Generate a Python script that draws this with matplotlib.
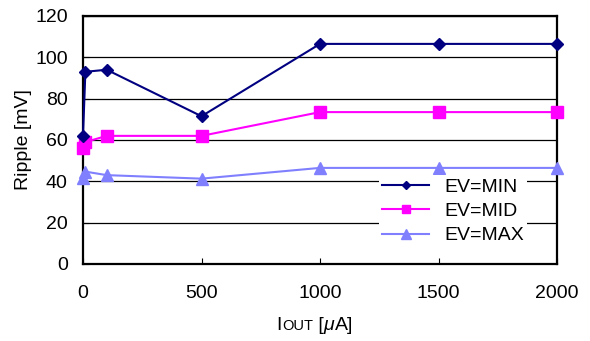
import matplotlib
matplotlib.use('Agg')
import matplotlib.pyplot as plt
from matplotlib.offsetbox import TextArea, HPacker, AnnotationBbox

plt.rcParams['font.family'] = ['Liberation Sans', 'DejaVu Sans']

# data
iout = [0, 10, 100, 500, 1000, 1500, 2000]
ev_min = [62, 93, 94, 71.5, 106.5, 106.5, 106.5]
ev_mid = [56, 59, 62, 62, 73.5, 73.5, 73.5]
ev_max = [41.5, 44.7, 43, 41.3, 46.5, 46.5, 46.5]
x_ticks = [0, 500, 1000, 1500, 2000]
y_ticks = [0, 20, 40, 60, 80, 100, 120]

FS = 14

fig = plt.figure(figsize=(5.9, 3.41), dpi=100)
ax = fig.add_axes([83 / 590, 1 - 264 / 341, (557 - 83) / 590, (264 - 16) / 341])

ax.plot(iout, ev_min, color='#000080', marker='D', markersize=6, lw=1.5,
        label='EV=MIN', clip_on=False, zorder=5)
ax.plot(iout, ev_mid, color='#FF00FF', marker='s', markersize=8.5, lw=1.5,
        label='EV=MID', clip_on=False, zorder=4)
ax.plot(iout, ev_max, color='#8080FF', marker='^', markersize=9, lw=1.5,
        label='EV=MAX', clip_on=False, zorder=3)

ax.set_xlim(0, 2000)
ax.set_ylim(0, 120)
ax.set_xticks(x_ticks)
ax.set_yticks(y_ticks)
ax.tick_params(direction='in', length=4, labelsize=FS, color='black')
ax.tick_params(axis='x', pad=15)
ax.tick_params(axis='y', pad=11)
ax.yaxis.grid(True, color='black', lw=0.9)
ax.set_axisbelow(True)
for s in ax.spines.values():
    s.set_linewidth(1.6)

ax.set_ylabel('Ripple [mV]', fontsize=FS, labelpad=2)

# x label with small-caps style "OUT" and italic mu
parts = [
    TextArea('I', textprops=dict(fontsize=FS)),
    TextArea('OUT', textprops=dict(fontsize=FS * 0.75)),
    TextArea(' [', textprops=dict(fontsize=FS)),
    TextArea('\u03bc', textprops=dict(fontsize=FS, style='italic')),
    TextArea('A]', textprops=dict(fontsize=FS)),
]
box = HPacker(children=parts, align='baseline', pad=0, sep=0)
ab = AnnotationBbox(box, (0.489, -0.25), xycoords='axes fraction', frameon=False,
                    box_alignment=(0.5, 0.5))
ax.add_artist(ab)

leg = ax.legend(loc='lower right', bbox_to_anchor=((537 - 83) / 474, 7 / 248),
                fontsize=FS, frameon=True, fancybox=False, edgecolor='none',
                framealpha=1, handlelength=2.4, labelspacing=0.35,
                borderpad=0.15, handletextpad=0.8, markerscale=0.75)

fig.savefig('out.png', dpi=100)
